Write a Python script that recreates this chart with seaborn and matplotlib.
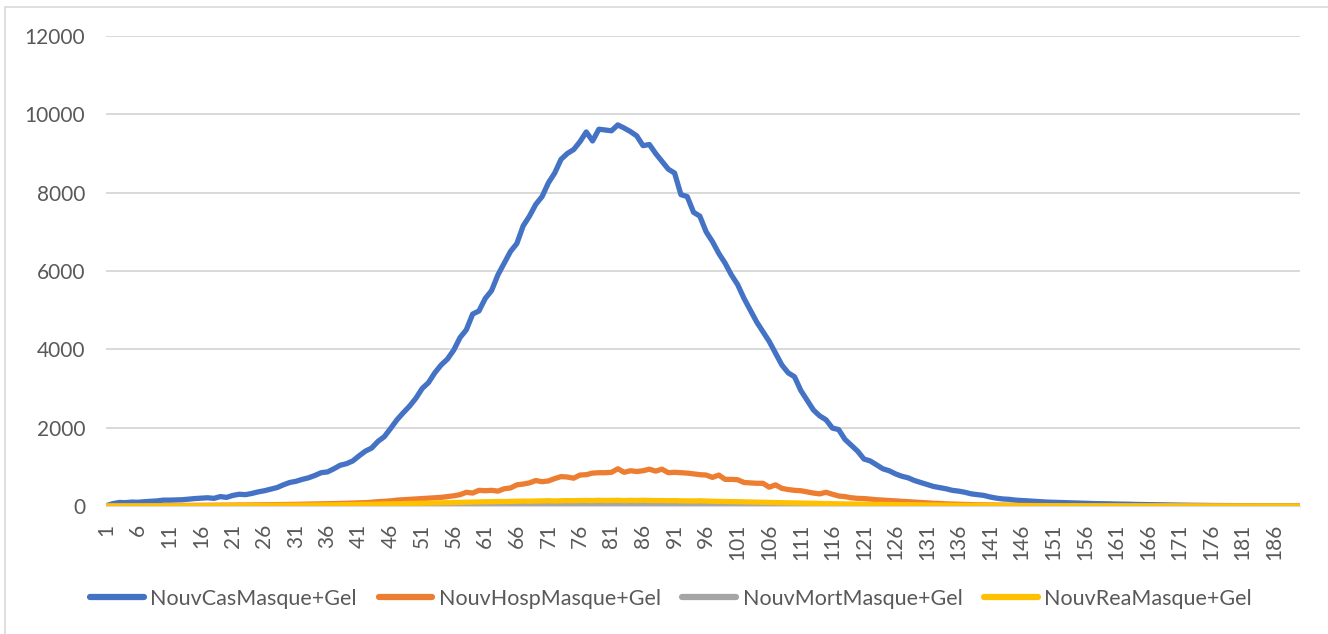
import numpy as np
import pandas as pd
import seaborn as sns
import matplotlib.pyplot as plt
from matplotlib.lines import Line2D

days = list(range(1, 191))

nouv_cas = [
    10, 60, 90, 85, 100, 95, 110, 120, 130, 150,
    150, 155, 160, 175, 190, 200, 210, 195, 240, 220,
    270, 300, 290, 320, 360, 390, 430, 470, 540, 600,
    630, 680, 720, 780, 850, 870, 950, 1040, 1080, 1150,
    1280, 1400, 1480, 1650, 1770, 1980, 2200, 2380, 2550, 2750,
    3000, 3150, 3400, 3600, 3750, 3980, 4300, 4500, 4900, 4980,
    5300, 5500, 5900, 6200, 6500, 6700, 7150, 7400, 7700, 7900,
    8250, 8500, 8850, 9000, 9100, 9300, 9550, 9320, 9620, 9600,
    9580, 9730, 9650, 9560, 9450, 9200, 9230, 9000, 8800, 8600,
    8500, 7950, 7900, 7500, 7400, 7000, 6750, 6450, 6200, 5900,
    5650, 5300, 5000, 4700, 4450, 4200, 3900, 3600, 3400, 3300,
    2950, 2700, 2450, 2300, 2200, 1990, 1950, 1700, 1550, 1400,
    1200, 1150, 1050, 950, 900, 820, 760, 720, 650, 600,
    550, 500, 470, 440, 400, 380, 350, 310, 290, 270,
    230, 200, 180, 170, 150, 140, 130, 120, 110, 100,
    95, 90, 85, 80, 75, 70, 65, 60, 58, 55,
    50, 48, 45, 40, 38, 35, 32, 30, 28, 25,
    22, 20, 18, 16, 15, 14, 12, 11, 10, 9,
    8, 7, 6, 6, 5, 4, 4, 3, 3, 2,
]

nouv_hosp = [
    2, 3, 4, 5, 5, 6, 7, 8, 8, 10,
    10, 11, 12, 13, 14, 15, 16, 18, 18, 20,
    22, 24, 25, 27, 28, 30, 32, 35, 37, 40,
    42, 45, 48, 50, 55, 58, 62, 65, 70, 75,
    80, 85, 95, 110, 120, 130, 150, 160, 170, 180,
    190, 200, 210, 220, 240, 260, 290, 350, 330, 400,
    390, 400, 380, 440, 460, 540, 560, 590, 650, 620,
    640, 700, 750, 740, 710, 790, 800, 840, 850, 850,
    860, 950, 860, 900, 880, 900, 940, 890, 940, 850,
    860, 850, 840, 820, 800, 790, 730, 790, 680, 680,
    670, 600, 590, 580, 580, 480, 540, 450, 420, 400,
    390, 360, 330, 310, 350, 300, 255, 240, 210, 195,
    190, 175, 160, 150, 140, 130, 120, 110, 100, 90,
    80, 70, 65, 55, 50, 45, 40, 35, 30, 28,
    25, 22, 20, 18, 16, 14, 12, 11, 10, 9,
    8, 8, 7, 7, 6, 6, 5, 5, 5, 4,
    4, 4, 3, 3, 3, 3, 2, 2, 2, 2,
    2, 2, 1, 1, 1, 1, 1, 1, 1, 1,
    1, 1, 1, 1, 0, 0, 0, 0, 0, 0,
]

nouv_mort = [
    0, 0, 0, 0, 0, 0, 0, 0, 0, 0,
    0, 0, 0, 0, 1, 1, 1, 1, 1, 1,
    1, 1, 2, 2, 2, 2, 2, 3, 3, 3,
    3, 4, 4, 4, 5, 5, 5, 6, 6, 6,
    7, 7, 8, 8, 9, 9, 10, 10, 11, 12,
    12, 13, 14, 15, 15, 16, 17, 18, 18, 19,
    20, 21, 22, 22, 23, 24, 25, 25, 26, 27,
    28, 28, 29, 30, 30, 31, 31, 32, 32, 33,
    33, 33, 34, 34, 34, 34, 33, 33, 33, 32,
    32, 31, 31, 30, 30, 29, 28, 28, 27, 26,
    25, 24, 24, 23, 22, 21, 20, 19, 18, 17,
    16, 15, 15, 14, 13, 12, 12, 11, 10, 10,
    9, 9, 8, 8, 7, 7, 6, 6, 6, 5,
    5, 5, 4, 4, 4, 4, 3, 3, 3, 3,
    3, 2, 2, 2, 2, 2, 2, 1, 1, 1,
    1, 1, 1, 1, 1, 1, 1, 1, 1, 1,
    1, 1, 0, 0, 0, 0, 0, 0, 0, 0,
    0, 0, 0, 0, 0, 0, 0, 0, 0, 0,
    0, 0, 0, 0, 0, 0, 0, 0, 0, 0,
]

nouv_rea = [
    0, 1, 1, 2, 2, 2, 3, 3, 3, 4,
    4, 5, 5, 6, 6, 7, 7, 8, 8, 9,
    10, 10, 11, 12, 13, 14, 15, 16, 17, 18,
    20, 21, 23, 25, 27, 29, 30, 32, 35, 37,
    40, 42, 45, 48, 50, 54, 57, 60, 63, 67,
    70, 74, 78, 80, 85, 88, 92, 95, 100, 105,
    108, 110, 115, 112, 118, 120, 125, 122, 128, 130,
    135, 128, 132, 138, 135, 140, 142, 138, 145, 140,
    142, 145, 138, 144, 140, 146, 142, 138, 140, 135,
    138, 132, 130, 128, 133, 126, 120, 118, 115, 112,
    110, 105, 102, 98, 95, 92, 88, 85, 80, 78,
    75, 72, 68, 65, 62, 58, 55, 52, 50, 48,
    45, 42, 40, 38, 36, 34, 32, 30, 28, 26,
    25, 23, 22, 20, 19, 18, 17, 16, 15, 14,
    13, 12, 11, 10, 10, 9, 9, 8, 8, 7,
    7, 6, 6, 6, 5, 5, 5, 4, 4, 4,
    4, 3, 3, 3, 3, 3, 2, 2, 2, 2,
    2, 2, 2, 1, 1, 1, 1, 1, 1, 1,
    1, 1, 1, 1, 0, 0, 0, 0, 0, 0,
]

series_names = ["NouvCasMasque+Gel", "NouvHospMasque+Gel", "NouvMortMasque+Gel", "NouvReaMasque+Gel"]
colors = ["#4472C4", "#ED7D31", "#A5A5A5", "#FFC000"]
x_ticks = list(range(1, 191, 5))
y_ticks = [0, 2000, 4000, 6000, 8000, 10000, 12000]

df = pd.DataFrame({"jour": days,
                   series_names[0]: nouv_cas,
                   series_names[1]: nouv_hosp,
                   series_names[2]: nouv_mort,
                   series_names[3]: nouv_rea})
long_df = df.melt(id_vars="jour", var_name="serie", value_name="valeur")

sns.set_style("white")
plt.rcParams["font.family"] = ["Lato", "DejaVu Sans"]
txt_color = "#595959"

fig = plt.figure(figsize=(13.28, 6.34), dpi=100)
ax = fig.add_axes([106 / 1328, 1 - 506 / 634, (1300 - 106) / 1328, (506 - 36) / 634])

sns.lineplot(data=long_df, x="jour", y="valeur", hue="serie", hue_order=series_names,
             palette=colors, linewidth=3.8, ax=ax, legend=False, solid_capstyle="round")

ax.set_xlim(0.9, 190.1)
ax.set_ylim(0, 12000)
ax.set_xticks(x_ticks)
ax.set_xticklabels([str(t) for t in x_ticks], rotation=90)
ax.set_yticks(y_ticks)
ax.set_yticklabels([str(t) for t in y_ticks])
ax.set_xlabel("")
ax.set_ylabel("")
ax.yaxis.grid(True, color="#D9D9D9", linewidth=1.4)
ax.set_axisbelow(True)
for s in ["top", "right", "left"]:
    ax.spines[s].set_visible(False)
ax.spines["bottom"].set_color("#D9D9D9")
ax.tick_params(axis="x", length=0, pad=13, labelsize=15, labelcolor=txt_color)
ax.tick_params(axis="y", length=0, pad=15, labelsize=15, labelcolor=txt_color)

handles = [Line2D([0], [0], color=c, linewidth=4.5, solid_capstyle="round") for c in colors]
fig.legend(handles, series_names, loc="center", bbox_to_anchor=(671 / 1328, 1 - 599 / 634),
           ncol=4, frameon=False, fontsize=15.5, labelcolor=txt_color,
           handlelength=2.5, handletextpad=0.3, columnspacing=1.0)

# chart area border (left and top edges visible)
fig.add_artist(Line2D([5 / 1328, 5 / 1328], [0, 1 - 7 / 634], color="#D9D9D9", linewidth=1.2))
fig.add_artist(Line2D([5 / 1328, 1], [1 - 7 / 634, 1 - 7 / 634], color="#D9D9D9", linewidth=1.2))

fig.savefig("out.png", dpi=100)
